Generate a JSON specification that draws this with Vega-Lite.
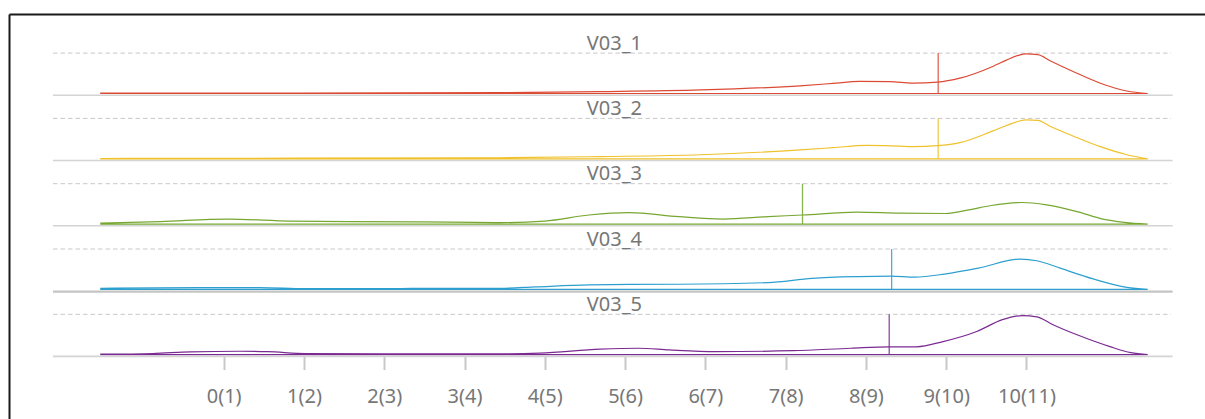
{
  "$schema": "https://vega.github.io/schema/vega-lite/v6.json",
  "width": 1196,
  "height": 342.5,
  "autosize": "none",
  "padding": {"left": 9, "top": 14, "right": 0, "bottom": 62.5},
  "background": "#ffffff",
  "config": {"view": {"stroke": null}, "font": "Noto Sans"},
  "datasets": {
    "stats": [
      {"series": "V03_1", "mean": 8.9},
      {"series": "V03_2", "mean": 8.9},
      {"series": "V03_3", "mean": 7.21},
      {"series": "V03_4", "mean": 8.32},
      {"series": "V03_5", "mean": 8.29}
    ],
    "dens": [
      {"series": "V03_1", "x": -1.53, "d": 0.003},
      {"series": "V03_1", "x": 0.95, "d": 0.005},
      {"series": "V03_1", "x": 3.44, "d": 0.008},
      {"series": "V03_1", "x": 4.69, "d": 0.018},
      {"series": "V03_1", "x": 5.94, "d": 0.035},
      {"series": "V03_1", "x": 7.18, "d": 0.076},
      {"series": "V03_1", "x": 7.59, "d": 0.1},
      {"series": "V03_1", "x": 7.92, "d": 0.12},
      {"series": "V03_1", "x": 8.3, "d": 0.118},
      {"series": "V03_1", "x": 8.58, "d": 0.103},
      {"series": "V03_1", "x": 8.89, "d": 0.113},
      {"series": "V03_1", "x": 9.17, "d": 0.152},
      {"series": "V03_1", "x": 9.58, "d": 0.268},
      {"series": "V03_1", "x": 9.75, "d": 0.33},
      {"series": "V03_1", "x": 9.9, "d": 0.378},
      {"series": "V03_1", "x": 10.0, "d": 0.392},
      {"series": "V03_1", "x": 10.14, "d": 0.385},
      {"series": "V03_1", "x": 10.3, "d": 0.322},
      {"series": "V03_1", "x": 10.58, "d": 0.218},
      {"series": "V03_1", "x": 10.92, "d": 0.102},
      {"series": "V03_1", "x": 11.25, "d": 0.025},
      {"series": "V03_1", "x": 11.51, "d": 0},

      {"series": "V03_2", "x": -1.53, "d": 0.003},
      {"series": "V03_2", "x": 0.95, "d": 0.006},
      {"series": "V03_2", "x": 3.44, "d": 0.01},
      {"series": "V03_2", "x": 4.69, "d": 0.022},
      {"series": "V03_2", "x": 5.94, "d": 0.04},
      {"series": "V03_2", "x": 7.18, "d": 0.088},
      {"series": "V03_2", "x": 7.59, "d": 0.11},
      {"series": "V03_2", "x": 8.01, "d": 0.133},
      {"series": "V03_2", "x": 8.42, "d": 0.126},
      {"series": "V03_2", "x": 8.58, "d": 0.12},
      {"series": "V03_2", "x": 8.89, "d": 0.13},
      {"series": "V03_2", "x": 9.17, "d": 0.16},
      {"series": "V03_2", "x": 9.58, "d": 0.276},
      {"series": "V03_2", "x": 9.75, "d": 0.33},
      {"series": "V03_2", "x": 9.9, "d": 0.372},
      {"series": "V03_2", "x": 10.0, "d": 0.386},
      {"series": "V03_2", "x": 10.14, "d": 0.38},
      {"series": "V03_2", "x": 10.3, "d": 0.32},
      {"series": "V03_2", "x": 10.58, "d": 0.226},
      {"series": "V03_2", "x": 10.92, "d": 0.12},
      {"series": "V03_2", "x": 11.25, "d": 0.04},
      {"series": "V03_2", "x": 11.51, "d": 0},

      {"series": "V03_3", "x": -1.53, "d": 0.01},
      {"series": "V03_3", "x": -0.79, "d": 0.025},
      {"series": "V03_3", "x": 0.05, "d": 0.05},
      {"series": "V03_3", "x": 0.83, "d": 0.03},
      {"series": "V03_3", "x": 1.57, "d": 0.025},
      {"series": "V03_3", "x": 2.44, "d": 0.022},
      {"series": "V03_3", "x": 3.44, "d": 0.015},
      {"series": "V03_3", "x": 4.0, "d": 0.03},
      {"series": "V03_3", "x": 4.55, "d": 0.09},
      {"series": "V03_3", "x": 5.05, "d": 0.114},
      {"series": "V03_3", "x": 5.67, "d": 0.074},
      {"series": "V03_3", "x": 6.22, "d": 0.05},
      {"series": "V03_3", "x": 6.78, "d": 0.074},
      {"series": "V03_3", "x": 7.21, "d": 0.09},
      {"series": "V03_3", "x": 7.89, "d": 0.118},
      {"series": "V03_3", "x": 8.42, "d": 0.108},
      {"series": "V03_3", "x": 8.99, "d": 0.105},
      {"series": "V03_3", "x": 9.28, "d": 0.14},
      {"series": "V03_3", "x": 9.56, "d": 0.184},
      {"series": "V03_3", "x": 9.95, "d": 0.214},
      {"series": "V03_3", "x": 10.25, "d": 0.19},
      {"series": "V03_3", "x": 10.63, "d": 0.124},
      {"series": "V03_3", "x": 10.95, "d": 0.05},
      {"series": "V03_3", "x": 11.22, "d": 0.018},
      {"series": "V03_3", "x": 11.51, "d": 0},

      {"series": "V03_4", "x": -1.53, "d": 0.01},
      {"series": "V03_4", "x": -0.3, "d": 0.018},
      {"series": "V03_4", "x": 0.45, "d": 0.018},
      {"series": "V03_4", "x": 1.02, "d": 0.008},
      {"series": "V03_4", "x": 2.2, "d": 0.009},
      {"series": "V03_4", "x": 3.44, "d": 0.011},
      {"series": "V03_4", "x": 3.89, "d": 0.025},
      {"series": "V03_4", "x": 4.55, "d": 0.044},
      {"series": "V03_4", "x": 5.06, "d": 0.05},
      {"series": "V03_4", "x": 5.67, "d": 0.051},
      {"series": "V03_4", "x": 6.78, "d": 0.067},
      {"series": "V03_4", "x": 7.33, "d": 0.11},
      {"series": "V03_4", "x": 7.89, "d": 0.127},
      {"series": "V03_4", "x": 8.31, "d": 0.132},
      {"series": "V03_4", "x": 8.61, "d": 0.122},
      {"series": "V03_4", "x": 8.98, "d": 0.152},
      {"series": "V03_4", "x": 9.4, "d": 0.21},
      {"series": "V03_4", "x": 9.92, "d": 0.3},
      {"series": "V03_4", "x": 10.13, "d": 0.284},
      {"series": "V03_4", "x": 10.42, "d": 0.21},
      {"series": "V03_4", "x": 10.83, "d": 0.104},
      {"series": "V03_4", "x": 11.25, "d": 0.02},
      {"series": "V03_4", "x": 11.51, "d": 0},

      {"series": "V03_5", "x": -1.53, "d": 0.005},
      {"series": "V03_5", "x": -0.88, "d": 0.012},
      {"series": "V03_5", "x": -0.41, "d": 0.028},
      {"series": "V03_5", "x": 0.2, "d": 0.034},
      {"series": "V03_5", "x": 0.55, "d": 0.03},
      {"series": "V03_5", "x": 1.02, "d": 0.012},
      {"series": "V03_5", "x": 1.98, "d": 0.008},
      {"series": "V03_5", "x": 3.44, "d": 0.008},
      {"series": "V03_5", "x": 3.94, "d": 0.015},
      {"series": "V03_5", "x": 4.69, "d": 0.055},
      {"series": "V03_5", "x": 5.17, "d": 0.064},
      {"series": "V03_5", "x": 5.55, "d": 0.047},
      {"series": "V03_5", "x": 6.13, "d": 0.03},
      {"series": "V03_5", "x": 7.09, "d": 0.04},
      {"series": "V03_5", "x": 7.81, "d": 0.064},
      {"series": "V03_5", "x": 8.29, "d": 0.078},
      {"series": "V03_5", "x": 8.63, "d": 0.078},
      {"series": "V03_5", "x": 8.96, "d": 0.13},
      {"series": "V03_5", "x": 9.38, "d": 0.23},
      {"series": "V03_5", "x": 9.7, "d": 0.347},
      {"series": "V03_5", "x": 9.95, "d": 0.387},
      {"series": "V03_5", "x": 10.13, "d": 0.374},
      {"series": "V03_5", "x": 10.33, "d": 0.297},
      {"series": "V03_5", "x": 10.63, "d": 0.197},
      {"series": "V03_5", "x": 11.04, "d": 0.08},
      {"series": "V03_5", "x": 11.3, "d": 0.02},
      {"series": "V03_5", "x": 11.51, "d": 0}
    ]
  },
  "resolve": {"scale": {"x": "independent", "y": "independent"}, "axis": {"x": "independent", "y": "independent"}},
  "layer": [
    {"data": {"name": "stats"}, "transform": [{"filter": "datum.series === 'V03_1'"}],
     "mark": {"type": "point", "opacity": 0},
     "encoding": {
       "x": {"datum": 0, "type": "quantitative", "scale": {"domain": [0, 1], "range": [0, 1230], "nice": false, "zero": false},
             "axis": {"orient": "top", "domain": true, "domainColor": "#1a1a1a", "domainWidth": 2, "ticks": false, "labels": false, "grid": false, "title": null}},
       "y": {"datum": 0, "type": "quantitative", "scale": {"domain": [0, 1], "range": [0, 430], "nice": false, "zero": false},
             "axis": {"orient": "left", "domain": true, "domainColor": "#1a1a1a", "domainWidth": 2, "ticks": false, "labels": false, "grid": false, "title": null}}}},
    {
      "layer": [
        {"data": {"name": "stats"}, "transform": [{"filter": "datum.series === 'V03_1'"}],
         "mark": {"type": "rule", "stroke": "#c8c8c8", "strokeWidth": 1, "strokeDash": [4.5, 3]},
         "encoding": {"x": {"datum": -2.126, "type": "quantitative", "scale": {"domain": [-2.126, 11.8], "range": [44, 1162], "nice": false, "zero": false}, "axis": null}, "x2": {"datum": 11.8},
                      "y": {"datum": 0.4, "type": "quantitative", "scale": {"domain": [0, 0.4], "range": [79.5, 39.1], "nice": false, "zero": false}, "axis": null}}},
        {"data": {"name": "stats"}, "transform": [{"filter": "datum.series === 'V03_1'"}],
         "mark": {"type": "rule", "stroke": "#d4d4d4", "strokeWidth": 1.6, "yOffset": 1.7},
         "encoding": {"x": {"datum": -2.126, "type": "quantitative", "scale": {"domain": [-2.126, 11.8], "range": [44, 1162], "nice": false, "zero": false}, "axis": null}, "x2": {"datum": 11.82},
                      "y": {"datum": 0, "type": "quantitative", "scale": {"domain": [0, 0.4], "range": [79.5, 39.1], "nice": false, "zero": false}, "axis": null}}},
        {"data": {"name": "stats"}, "transform": [{"filter": "datum.series === 'V03_1'"}],
         "mark": {"type": "text", "fontSize": 20, "font": "Noto Sans", "color": "#777777", "align": "center", "baseline": "alphabetic", "dy": -3.5},
         "encoding": {"x": {"datum": 4.867, "type": "quantitative", "scale": {"domain": [-2.126, 11.8], "range": [44, 1162], "nice": false, "zero": false}, "axis": null},
                      "y": {"datum": 0.4, "type": "quantitative", "scale": {"domain": [0, 0.4], "range": [79.5, 39.1], "nice": false, "zero": false}, "axis": null},
                      "text": {"field": "series"}}},
        {"data": {"name": "stats"}, "transform": [{"filter": "datum.series === 'V03_1'"}],
         "mark": {"type": "rule", "strokeWidth": 1.3, "opacity": 0.85},
         "encoding": {"x": {"field": "mean", "type": "quantitative", "scale": {"domain": [-2.126, 11.8], "range": [44, 1162], "nice": false, "zero": false}, "axis": null},
                      "y": {"datum": 0, "type": "quantitative", "scale": {"domain": [0, 0.4], "range": [79.5, 39.1], "nice": false, "zero": false}, "axis": null}, "y2": {"datum": 0.4},
                      "color": {"field": "series", "type": "nominal", "scale": {"domain": ["V03_1", "V03_2", "V03_3", "V03_4", "V03_5"], "range": ["#dc4a34", "#f0c12a", "#76a731", "#2c9fcf", "#7b2a92"]}, "legend": null}}},
        {"data": {"name": "dens"}, "transform": [{"filter": "datum.series === 'V03_1'"}],
         "mark": {"type": "area", "fill": "transparent", "strokeWidth": 1.2, "interpolate": "monotone"},
         "encoding": {"x": {"field": "x", "type": "quantitative", "scale": {"domain": [-2.126, 11.8], "range": [44, 1162], "nice": false, "zero": false}, "axis": null},
                      "y": {"field": "d", "type": "quantitative", "scale": {"domain": [0, 0.4], "range": [79.5, 39.1], "nice": false, "zero": false}, "axis": null},
                      "stroke": {"field": "series", "type": "nominal", "scale": {"domain": ["V03_1", "V03_2", "V03_3", "V03_4", "V03_5"], "range": ["#dc4a34", "#f0c12a", "#76a731", "#2c9fcf", "#7b2a92"]}, "legend": null}}}
      ]
    },
    {
      "layer": [
        {"data": {"name": "stats"}, "transform": [{"filter": "datum.series === 'V03_2'"}],
         "mark": {"type": "rule", "stroke": "#c8c8c8", "strokeWidth": 1, "strokeDash": [4.5, 3]},
         "encoding": {"x": {"datum": -2.126, "type": "quantitative", "scale": {"domain": [-2.126, 11.8], "range": [44, 1162], "nice": false, "zero": false}, "axis": null}, "x2": {"datum": 11.8},
                      "y": {"datum": 0.4, "type": "quantitative", "scale": {"domain": [0, 0.4], "range": [144.8, 104.4], "nice": false, "zero": false}, "axis": null}}},
        {"data": {"name": "stats"}, "transform": [{"filter": "datum.series === 'V03_2'"}],
         "mark": {"type": "rule", "stroke": "#d4d4d4", "strokeWidth": 1.6, "yOffset": 1.7},
         "encoding": {"x": {"datum": -2.126, "type": "quantitative", "scale": {"domain": [-2.126, 11.8], "range": [44, 1162], "nice": false, "zero": false}, "axis": null}, "x2": {"datum": 11.82},
                      "y": {"datum": 0, "type": "quantitative", "scale": {"domain": [0, 0.4], "range": [144.8, 104.4], "nice": false, "zero": false}, "axis": null}}},
        {"data": {"name": "stats"}, "transform": [{"filter": "datum.series === 'V03_2'"}],
         "mark": {"type": "text", "fontSize": 20, "font": "Noto Sans", "color": "#777777", "align": "center", "baseline": "alphabetic", "dy": -3.5},
         "encoding": {"x": {"datum": 4.867, "type": "quantitative", "scale": {"domain": [-2.126, 11.8], "range": [44, 1162], "nice": false, "zero": false}, "axis": null},
                      "y": {"datum": 0.4, "type": "quantitative", "scale": {"domain": [0, 0.4], "range": [144.8, 104.4], "nice": false, "zero": false}, "axis": null},
                      "text": {"field": "series"}}},
        {"data": {"name": "stats"}, "transform": [{"filter": "datum.series === 'V03_2'"}],
         "mark": {"type": "rule", "strokeWidth": 1.3, "opacity": 0.85},
         "encoding": {"x": {"field": "mean", "type": "quantitative", "scale": {"domain": [-2.126, 11.8], "range": [44, 1162], "nice": false, "zero": false}, "axis": null},
                      "y": {"datum": 0, "type": "quantitative", "scale": {"domain": [0, 0.4], "range": [144.8, 104.4], "nice": false, "zero": false}, "axis": null}, "y2": {"datum": 0.4},
                      "color": {"field": "series", "type": "nominal", "scale": {"domain": ["V03_1", "V03_2", "V03_3", "V03_4", "V03_5"], "range": ["#dc4a34", "#f0c12a", "#76a731", "#2c9fcf", "#7b2a92"]}, "legend": null}}},
        {"data": {"name": "dens"}, "transform": [{"filter": "datum.series === 'V03_2'"}],
         "mark": {"type": "area", "fill": "transparent", "strokeWidth": 1.2, "interpolate": "monotone"},
         "encoding": {"x": {"field": "x", "type": "quantitative", "scale": {"domain": [-2.126, 11.8], "range": [44, 1162], "nice": false, "zero": false}, "axis": null},
                      "y": {"field": "d", "type": "quantitative", "scale": {"domain": [0, 0.4], "range": [144.8, 104.4], "nice": false, "zero": false}, "axis": null},
                      "stroke": {"field": "series", "type": "nominal", "scale": {"domain": ["V03_1", "V03_2", "V03_3", "V03_4", "V03_5"], "range": ["#dc4a34", "#f0c12a", "#76a731", "#2c9fcf", "#7b2a92"]}, "legend": null}}}
      ]
    },
    {
      "layer": [
        {"data": {"name": "stats"}, "transform": [{"filter": "datum.series === 'V03_3'"}],
         "mark": {"type": "rule", "stroke": "#c8c8c8", "strokeWidth": 1, "strokeDash": [4.5, 3]},
         "encoding": {"x": {"datum": -2.126, "type": "quantitative", "scale": {"domain": [-2.126, 11.8], "range": [44, 1162], "nice": false, "zero": false}, "axis": null}, "x2": {"datum": 11.8},
                      "y": {"datum": 0.4, "type": "quantitative", "scale": {"domain": [0, 0.4], "range": [210.1, 169.7], "nice": false, "zero": false}, "axis": null}}},
        {"data": {"name": "stats"}, "transform": [{"filter": "datum.series === 'V03_3'"}],
         "mark": {"type": "rule", "stroke": "#d4d4d4", "strokeWidth": 1.6, "yOffset": 1.7},
         "encoding": {"x": {"datum": -2.126, "type": "quantitative", "scale": {"domain": [-2.126, 11.8], "range": [44, 1162], "nice": false, "zero": false}, "axis": null}, "x2": {"datum": 11.82},
                      "y": {"datum": 0, "type": "quantitative", "scale": {"domain": [0, 0.4], "range": [210.1, 169.7], "nice": false, "zero": false}, "axis": null}}},
        {"data": {"name": "stats"}, "transform": [{"filter": "datum.series === 'V03_3'"}],
         "mark": {"type": "text", "fontSize": 20, "font": "Noto Sans", "color": "#777777", "align": "center", "baseline": "alphabetic", "dy": -3.5},
         "encoding": {"x": {"datum": 4.867, "type": "quantitative", "scale": {"domain": [-2.126, 11.8], "range": [44, 1162], "nice": false, "zero": false}, "axis": null},
                      "y": {"datum": 0.4, "type": "quantitative", "scale": {"domain": [0, 0.4], "range": [210.1, 169.7], "nice": false, "zero": false}, "axis": null},
                      "text": {"field": "series"}}},
        {"data": {"name": "stats"}, "transform": [{"filter": "datum.series === 'V03_3'"}],
         "mark": {"type": "rule", "strokeWidth": 1.3, "opacity": 0.85},
         "encoding": {"x": {"field": "mean", "type": "quantitative", "scale": {"domain": [-2.126, 11.8], "range": [44, 1162], "nice": false, "zero": false}, "axis": null},
                      "y": {"datum": 0, "type": "quantitative", "scale": {"domain": [0, 0.4], "range": [210.1, 169.7], "nice": false, "zero": false}, "axis": null}, "y2": {"datum": 0.4},
                      "color": {"field": "series", "type": "nominal", "scale": {"domain": ["V03_1", "V03_2", "V03_3", "V03_4", "V03_5"], "range": ["#dc4a34", "#f0c12a", "#76a731", "#2c9fcf", "#7b2a92"]}, "legend": null}}},
        {"data": {"name": "dens"}, "transform": [{"filter": "datum.series === 'V03_3'"}],
         "mark": {"type": "area", "fill": "transparent", "strokeWidth": 1.2, "interpolate": "monotone"},
         "encoding": {"x": {"field": "x", "type": "quantitative", "scale": {"domain": [-2.126, 11.8], "range": [44, 1162], "nice": false, "zero": false}, "axis": null},
                      "y": {"field": "d", "type": "quantitative", "scale": {"domain": [0, 0.4], "range": [210.1, 169.7], "nice": false, "zero": false}, "axis": null},
                      "stroke": {"field": "series", "type": "nominal", "scale": {"domain": ["V03_1", "V03_2", "V03_3", "V03_4", "V03_5"], "range": ["#dc4a34", "#f0c12a", "#76a731", "#2c9fcf", "#7b2a92"]}, "legend": null}}}
      ]
    },
    {
      "layer": [
        {"data": {"name": "stats"}, "transform": [{"filter": "datum.series === 'V03_4'"}],
         "mark": {"type": "rule", "stroke": "#c8c8c8", "strokeWidth": 1, "strokeDash": [4.5, 3]},
         "encoding": {"x": {"datum": -2.126, "type": "quantitative", "scale": {"domain": [-2.126, 11.8], "range": [44, 1162], "nice": false, "zero": false}, "axis": null}, "x2": {"datum": 11.8},
                      "y": {"datum": 0.4, "type": "quantitative", "scale": {"domain": [0, 0.4], "range": [275.4, 235.0], "nice": false, "zero": false}, "axis": null}}},
        {"data": {"name": "stats"}, "transform": [{"filter": "datum.series === 'V03_4'"}],
         "mark": {"type": "rule", "stroke": "#c4c4c4", "strokeWidth": 2.4, "yOffset": 2.2},
         "encoding": {"x": {"datum": -2.126, "type": "quantitative", "scale": {"domain": [-2.126, 11.8], "range": [44, 1162], "nice": false, "zero": false}, "axis": null}, "x2": {"datum": 11.82},
                      "y": {"datum": 0, "type": "quantitative", "scale": {"domain": [0, 0.4], "range": [275.4, 235.0], "nice": false, "zero": false}, "axis": null}}},
        {"data": {"name": "stats"}, "transform": [{"filter": "datum.series === 'V03_4'"}],
         "mark": {"type": "text", "fontSize": 20, "font": "Noto Sans", "color": "#777777", "align": "center", "baseline": "alphabetic", "dy": -3.5},
         "encoding": {"x": {"datum": 4.867, "type": "quantitative", "scale": {"domain": [-2.126, 11.8], "range": [44, 1162], "nice": false, "zero": false}, "axis": null},
                      "y": {"datum": 0.4, "type": "quantitative", "scale": {"domain": [0, 0.4], "range": [275.4, 235.0], "nice": false, "zero": false}, "axis": null},
                      "text": {"field": "series"}}},
        {"data": {"name": "stats"}, "transform": [{"filter": "datum.series === 'V03_4'"}],
         "mark": {"type": "rule", "strokeWidth": 1.3, "opacity": 0.85},
         "encoding": {"x": {"field": "mean", "type": "quantitative", "scale": {"domain": [-2.126, 11.8], "range": [44, 1162], "nice": false, "zero": false}, "axis": null},
                      "y": {"datum": 0, "type": "quantitative", "scale": {"domain": [0, 0.4], "range": [275.4, 235.0], "nice": false, "zero": false}, "axis": null}, "y2": {"datum": 0.4},
                      "color": {"field": "series", "type": "nominal", "scale": {"domain": ["V03_1", "V03_2", "V03_3", "V03_4", "V03_5"], "range": ["#dc4a34", "#f0c12a", "#76a731", "#2c9fcf", "#7b2a92"]}, "legend": null}}},
        {"data": {"name": "dens"}, "transform": [{"filter": "datum.series === 'V03_4'"}],
         "mark": {"type": "area", "fill": "transparent", "strokeWidth": 1.2, "interpolate": "monotone"},
         "encoding": {"x": {"field": "x", "type": "quantitative", "scale": {"domain": [-2.126, 11.8], "range": [44, 1162], "nice": false, "zero": false}, "axis": null},
                      "y": {"field": "d", "type": "quantitative", "scale": {"domain": [0, 0.4], "range": [275.4, 235.0], "nice": false, "zero": false}, "axis": null},
                      "stroke": {"field": "series", "type": "nominal", "scale": {"domain": ["V03_1", "V03_2", "V03_3", "V03_4", "V03_5"], "range": ["#dc4a34", "#f0c12a", "#76a731", "#2c9fcf", "#7b2a92"]}, "legend": null}}}
      ]
    },
    {
      "layer": [
        {"data": {"name": "dens"}, "transform": [{"filter": "datum.series === 'V03_5'"}],
         "mark": {"type": "area", "fill": "transparent", "strokeWidth": 1.2, "interpolate": "monotone"},
         "encoding": {"x": {"field": "x", "type": "quantitative", "scale": {"domain": [-2.126, 11.8], "range": [44, 1162], "nice": false, "zero": false},
                            "axis": {"orient": "bottom", "values": [0, 1, 2, 3, 4, 5, 6, 7, 8, 9, 10], "labelExpr": "datum.value + '(' + (datum.value + 1) + ')'", "title": null, "domain": false, "grid": false, "ticks": true, "tickColor": "#c8c8c8", "tickWidth": 2, "tickSize": 13, "labelFont": "Noto Sans", "labelFontSize": 20, "labelColor": "#777777", "labelPadding": 17, "labelFlush": false, "labelOverlap": false, "offset": 0}},
                      "y": {"field": "d", "type": "quantitative", "scale": {"domain": [0, 0.4], "range": [340.7, 300.3], "nice": false, "zero": false}, "axis": null},
                      "stroke": {"field": "series", "type": "nominal", "scale": {"domain": ["V03_1", "V03_2", "V03_3", "V03_4", "V03_5"], "range": ["#dc4a34", "#f0c12a", "#76a731", "#2c9fcf", "#7b2a92"]}, "legend": null}}},
        {"data": {"name": "stats"}, "transform": [{"filter": "datum.series === 'V03_5'"}],
         "mark": {"type": "rule", "stroke": "#c8c8c8", "strokeWidth": 1, "strokeDash": [4.5, 3]},
         "encoding": {"x": {"datum": -2.126, "type": "quantitative", "scale": {"domain": [-2.126, 11.8], "range": [44, 1162], "nice": false, "zero": false}}, "x2": {"datum": 11.8},
                      "y": {"datum": 0.4, "type": "quantitative", "scale": {"domain": [0, 0.4], "range": [340.7, 300.3], "nice": false, "zero": false}, "axis": null}}},
        {"data": {"name": "stats"}, "transform": [{"filter": "datum.series === 'V03_5'"}],
         "mark": {"type": "rule", "stroke": "#d4d4d4", "strokeWidth": 1.6, "yOffset": 1.7},
         "encoding": {"x": {"datum": -2.126, "type": "quantitative", "scale": {"domain": [-2.126, 11.8], "range": [44, 1162], "nice": false, "zero": false}}, "x2": {"datum": 11.82},
                      "y": {"datum": 0, "type": "quantitative", "scale": {"domain": [0, 0.4], "range": [340.7, 300.3], "nice": false, "zero": false}, "axis": null}}},
        {"data": {"name": "stats"}, "transform": [{"filter": "datum.series === 'V03_5'"}],
         "mark": {"type": "text", "fontSize": 20, "font": "Noto Sans", "color": "#777777", "align": "center", "baseline": "alphabetic", "dy": -3.5},
         "encoding": {"x": {"datum": 4.867, "type": "quantitative", "scale": {"domain": [-2.126, 11.8], "range": [44, 1162], "nice": false, "zero": false}},
                      "y": {"datum": 0.4, "type": "quantitative", "scale": {"domain": [0, 0.4], "range": [340.7, 300.3], "nice": false, "zero": false}, "axis": null},
                      "text": {"field": "series"}}},
        {"data": {"name": "stats"}, "transform": [{"filter": "datum.series === 'V03_5'"}],
         "mark": {"type": "rule", "strokeWidth": 1.3, "opacity": 0.85},
         "encoding": {"x": {"field": "mean", "type": "quantitative", "scale": {"domain": [-2.126, 11.8], "range": [44, 1162], "nice": false, "zero": false}},
                      "y": {"datum": 0, "type": "quantitative", "scale": {"domain": [0, 0.4], "range": [340.7, 300.3], "nice": false, "zero": false}, "axis": null}, "y2": {"datum": 0.4},
                      "color": {"field": "series", "type": "nominal", "scale": {"domain": ["V03_1", "V03_2", "V03_3", "V03_4", "V03_5"], "range": ["#dc4a34", "#f0c12a", "#76a731", "#2c9fcf", "#7b2a92"]}, "legend": null}}}
      ]
    }
  ]
}
